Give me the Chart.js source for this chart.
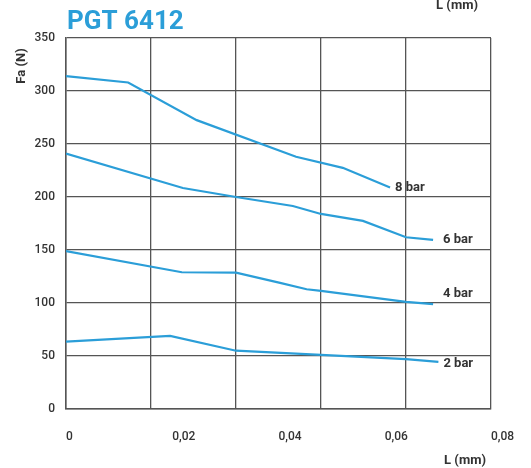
<!DOCTYPE html>
<html lang="fr">
<head>
<meta charset="UTF-8">
<title>PGT 6412</title>
<style>
  body { margin: 0; background: #fff; }
  canvas { display: block; }
</style>
</head>
<body>
<canvas id="chart" width="531" height="468"></canvas>
<script src="https://cdn.jsdelivr.net/npm/chart.js"></script>
<script>
// valeurs
const seriesNames = ['8 bar', '6 bar', '4 bar', '2 bar'];
const x8 = [0, 0.0117, 0.0246, 0.0433, 0.0521, 0.061];
const y8 = [314, 308, 272.5, 238, 227.5, 209];
const x6 = [0, 0.022, 0.032, 0.0427, 0.048, 0.0559, 0.064, 0.0691];
const y6 = [241, 208.5, 200, 191.5, 184, 177.5, 162, 159.5];
const x4 = [0, 0.0218, 0.032, 0.0403, 0.0453, 0.048, 0.064, 0.0691];
const y4 = [149, 129, 128.6, 119, 113, 111.5, 101, 99];
const x2 = [0, 0.0196, 0.032, 0.048, 0.064, 0.0701];
const y2 = [63.5, 69, 55, 51, 47, 44.5];

const xTickLabels = [0, 0.02, 0.04, 0.06, 0.08];
const xGridLines = [0, 0.016, 0.032, 0.048, 0.064, 0.08];
const yTicks = [0, 50, 100, 150, 200, 250, 300, 350];

const blue = '#2b9ed8';
const gridColor = '#555';
const textColor = '#333';

function pts(xs, ys) {
  return xs.map((x, i) => ({ x: x, y: ys[i] }));
}

// libellés des courbes, décalage en px depuis le dernier point
const labelShift = [[5, 0], [10, 0], [10, -10], [5, 2]];

const textPlugin = {
  id: 'textes',
  afterDatasetsDraw(chart) {
    const ctx = chart.ctx;
    const area = chart.chartArea;
    ctx.save();
    ctx.fillStyle = textColor;
    ctx.font = 'bold 13px Roboto';
    ctx.textBaseline = 'middle';
    ctx.textAlign = 'left';
    chart.data.datasets.forEach((ds, i) => {
      const meta = chart.getDatasetMeta(i);
      const last = meta.data[meta.data.length - 1];
      ctx.fillText(ds.label, last.x + labelShift[i][0], last.y + labelShift[i][1]);
    });

    // titre
    ctx.fillStyle = blue;
    ctx.font = 'bold 26px Roboto';
    ctx.textBaseline = 'alphabetic';
    ctx.fillText('PGT 6412', 67, 29);

    // L (mm) en haut et en bas
    ctx.fillStyle = textColor;
    ctx.font = 'bold 13px Roboto';
    ctx.textAlign = 'right';
    ctx.textBaseline = 'middle';
    ctx.fillText('L (mm)', 478, 6);
    ctx.fillText('L (mm)', area.right - 5, 461);

    // Fa (N)
    ctx.translate(22, 66);
    ctx.rotate(-Math.PI / 2);
    ctx.textAlign = 'center';
    ctx.fillText('Fa (N)', 0, 0);
    ctx.restore();
  }
};

const series = [pts(x8, y8), pts(x6, y6), pts(x4, y4), pts(x2, y2)];

new Chart(document.getElementById('chart').getContext('2d'), {
  type: 'line',
  data: {
    datasets: series.map((d, i) => ({
      label: seriesNames[i],
      data: d,
      borderColor: blue,
      borderWidth: 2.2,
      pointRadius: 0,
      tension: 0,
      fill: false,
      xAxisID: 'x',
      yAxisID: 'y'
    }))
  },
  options: {
    responsive: false,
    animation: false,
    layout: { padding: { top: 38, right: 40, left: 0, bottom: 0 } },
    plugins: {
      legend: { display: false },
      tooltip: { enabled: false }
    },
    scales: {
      x: {
        type: 'linear',
        position: 'bottom',
        min: 0,
        max: 0.08,
        afterBuildTicks: s => { s.ticks = xGridLines.map(v => ({ value: v })); },
        afterFit: s => { s.height = 0; s.paddingLeft = 0; s.paddingRight = 0; },
        ticks: { display: false },
        grid: { color: gridColor, lineWidth: 1.3, drawTicks: false },
        border: { color: gridColor, width: 1.5 }
      },
      xl: {
        type: 'linear',
        position: 'bottom',
        min: 0,
        max: 0.08,
        afterBuildTicks: s => { s.ticks = xTickLabels.map(v => ({ value: v })); },
        afterFit: s => { s.height = 59; s.paddingLeft = 0; s.paddingRight = 0; },
        grid: { display: false, drawTicks: false },
        border: { display: false },
        ticks: {
          align: 'start',
          padding: 21,
          maxRotation: 0,
          autoSkip: false,
          color: textColor,
          font: { family: 'Roboto', size: 12, weight: '500' },
          callback: v => v === 0 ? '0' : v.toFixed(2).replace('.', ',')
        }
      },
      y: {
        min: 0,
        max: 350,
        afterBuildTicks: s => { s.ticks = yTicks.map(v => ({ value: v })); },
        afterFit: s => { s.width = 66; },
        grid: { color: gridColor, lineWidth: 1.3, drawTicks: false },
        border: { color: gridColor, width: 1.5 },
        ticks: {
          padding: 11,
          color: textColor,
          font: { family: 'Roboto', size: 12, weight: '500' }
        }
      }
    }
  },
  plugins: [textPlugin]
});
</script>
</body>
</html>
